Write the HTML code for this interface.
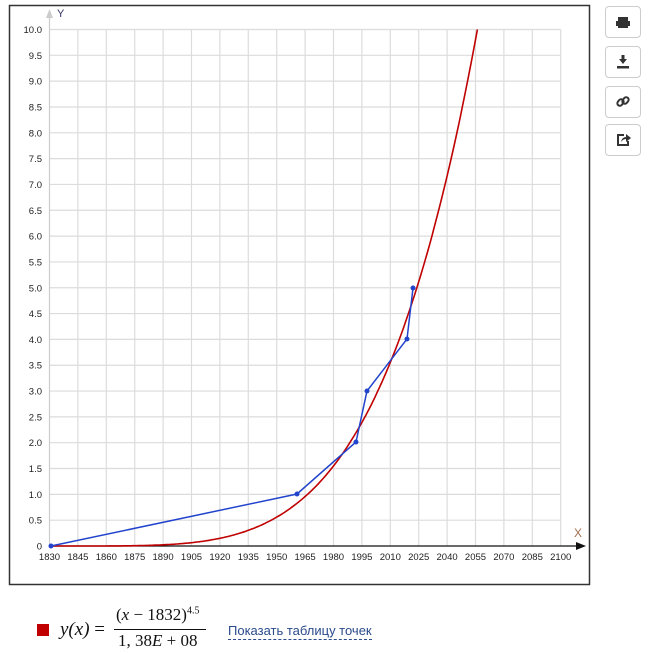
<!DOCTYPE html>
<html><head><meta charset="utf-8"><style>
body{margin:0;width:650px;height:653px;background:#fff;position:relative;font-family:"Liberation Sans",sans-serif;overflow:hidden}
.btn{position:absolute;left:605px;width:36px;height:32px;border:1px solid #ccc;border-radius:4px;background:#fff;box-sizing:border-box}
.m{font-family:"Liberation Serif",serif;position:absolute;color:#111}
</style></head><body>
<svg width="650" height="600" style="position:absolute;left:0;top:0" id="s">
<rect x="9.5" y="5.5" width="580" height="579" fill="#fff" stroke="#333" stroke-width="1.5"/>
<g id="grid" stroke="#dcdcdc" stroke-width="1.2"></g>
<g id="lab" font-family="Liberation Sans" font-size="9.5" fill="#222"></g>
<line x1="49.5" y1="546" x2="49.5" y2="14" stroke="#ccc" stroke-width="1.2"/>
<polygon points="49.5,9 46,18 53,18" fill="#ccc"/>
<text x="57" y="17" font-size="11" fill="#336">Y</text>
<line x1="49.5" y1="546" x2="580" y2="546" stroke="#111" stroke-width="1.2"/>
<polygon points="586,546 576,542 576,550" fill="#111"/>
<text x="574" y="537" font-size="12" fill="#a07050">X</text>
<path id="red" fill="none" stroke="#c00000" stroke-width="1.6"/>
<polyline points="51,546 297,494 356,442 367,391 407,339 413,288" fill="none" stroke="#2244cc" stroke-width="1.5"/>
<g fill="#2244cc"><circle cx="51" cy="546" r="2.5"/><circle cx="297" cy="494" r="2.5"/><circle cx="356" cy="442" r="2.5"/><circle cx="367" cy="391" r="2.5"/><circle cx="407" cy="339" r="2.5"/><circle cx="413" cy="288" r="2.5"/></g>
</svg>
<div class="btn" style="top:6px"><svg width="34" height="30"><rect x="12" y="10" width="10" height="4" fill="#333"/><rect x="10" y="14" width="14" height="5" fill="#333"/><rect x="12" y="19" width="10" height="2" fill="#333"/></svg></div>
<div class="btn" style="top:46px"><svg width="34" height="30"><polygon points="13,12 21,12 17,17" fill="#333"/><rect x="15.5" y="8" width="3" height="5" fill="#333"/><rect x="11" y="19" width="12" height="2.5" fill="#333"/></svg></div>
<div class="btn" style="top:86px"><svg width="34" height="30"><g fill="none" stroke="#333" stroke-width="2"><rect x="11" y="13" width="7" height="5" rx="2.5" transform="rotate(-50 14.5 15.5)"/><rect x="16" y="11" width="7" height="5" rx="2.5" transform="rotate(-50 19.5 13.5)"/></g></svg></div>
<div class="btn" style="top:124px"><svg width="34" height="30"><path d="M18 10 H12 V20 H22 V16" fill="none" stroke="#333" stroke-width="2"/><path d="M15 17 Q16 12 20 12 V9 L25 13 L20 17 V14 Q17 14 15 17Z" fill="#333"/></svg></div>
<div style="position:absolute;left:37px;top:624px;width:12px;height:12px;background:#c00000"></div>
<div class="m" style="left:60px;top:619px;font-size:19px;font-style:italic">y(x) <span style="font-style:normal">=</span></div>
<div class="m" style="left:116px;top:605px;font-size:17px">(<i>x</i> − 1832)<sup style="font-size:10px">4.5</sup></div>
<div style="position:absolute;left:114px;top:629px;width:92px;height:1px;background:#111"></div>
<div class="m" style="left:118px;top:631px;font-size:17px">1, 38<i>E</i> + 08</div>
<div style="position:absolute;left:228px;top:623px;font-size:13px;color:#2a4a8a;border-bottom:1px dashed #2a4a8a;line-height:16px">Показать таблицу точек</div>
<script>
var s=document.getElementById('grid'),l=document.getElementById('lab'),NS='http://www.w3.org/2000/svg';
function X(y){return 49.5+(y-1830)*511.2/270}function Y(v){return 546-v*51.65}
function el(p,t,a,txt){var e=document.createElementNS(NS,t);for(var k in a)e.setAttribute(k,a[k]);if(txt)e.textContent=txt;p.appendChild(e);}
for(var i=1;i<=20;i++){el(s,'line',{x1:49.5,x2:X(2100),y1:Y(i/2),y2:Y(i/2)});el(l,'text',{x:42,y:Y(i/2)+3.5,'text-anchor':'end'},(i/2).toFixed(1));}
el(l,'text',{x:42,y:549.5,'text-anchor':'end'},'0');
for(var y=1830;y<=2100;y+=15){if(y>1830)el(s,'line',{x1:X(y),x2:X(y),y1:Y(10),y2:546});el(l,'text',{x:X(y),y:560,'text-anchor':'middle'},''+y);}
var d='';for(var y=1832;y<=2056.1;y+=1){var v=10*Math.pow((y-1832)/224,4.5);if(v>10)v=10;d+=(d?'L':'M')+X(y).toFixed(1)+','+Y(v).toFixed(1);}
d+='L'+X(2056).toFixed(1)+','+Y(10);
document.getElementById('red').setAttribute('d','M49.5,546L'+X(1832)+',546'+d.replace('M','L'));
</script>
</body></html>
